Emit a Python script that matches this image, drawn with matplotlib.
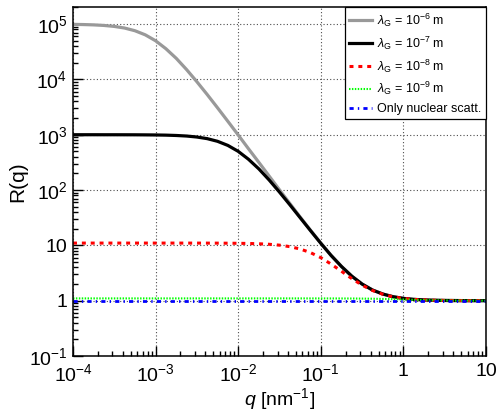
import matplotlib
matplotlib.use("Agg")
import matplotlib.pyplot as plt
from matplotlib.ticker import FixedLocator, FixedFormatter, LogLocator, NullFormatter

plt.rcParams['font.family'] = ['Liberation Sans', 'DejaVu Sans']
plt.rcParams['mathtext.fontset'] = 'custom'
plt.rcParams['mathtext.rm'] = 'Liberation Sans'
plt.rcParams['mathtext.it'] = 'Liberation Sans:italic'

# q grid (nm^-1), eighth-decade steps read along the x axis
q = [1.00e-4, 1.33e-4, 1.78e-4, 2.37e-4, 3.16e-4, 4.22e-4, 5.62e-4, 7.50e-4,
     1.00e-3, 1.33e-3, 1.78e-3, 2.37e-3, 3.16e-3, 4.22e-3, 5.62e-3, 7.50e-3,
     1.00e-2, 1.33e-2, 1.78e-2, 2.37e-2, 3.16e-2, 4.22e-2, 5.62e-2, 7.50e-2,
     0.100, 0.133, 0.178, 0.237, 0.316, 0.422, 0.562, 0.750,
     1.00, 1.33, 1.78, 2.37, 3.16, 4.22, 5.62, 7.50,
     10.0]

# R(q)
r_1e6 = [99000, 98250, 96930, 94680, 90910, 84910, 75970, 64010,
         50000, 36000, 24030, 15100, 9091, 5320, 3070, 1747,
         991, 560, 316, 179, 101, 57.2, 32.6, 18.8,
         11.0, 6.62, 4.16, 2.78, 2.0, 1.56, 1.32, 1.18,
         1.10, 1.056, 1.032, 1.018, 1.010, 1.006, 1.003, 1.002,
         1.001]
r_1e7 = [1001, 1001, 1001, 1000, 1000, 999, 998, 995,
         991, 984, 970, 948, 910, 850, 761, 641,
         501, 361, 241, 152, 91.9, 54.2, 31.7, 18.5,
         10.9, 6.59, 4.15, 2.78, 2.0, 1.56, 1.32, 1.18,
         1.10, 1.056, 1.032, 1.018, 1.010, 1.006, 1.003, 1.002,
         1.001]
r_1e8 = [11.0, 11.0, 11.0, 11.0, 11.0, 11.0, 11.0, 11.0,
         11.0, 11.0, 11.0, 10.99, 10.99, 10.98, 10.97, 10.94,
         10.90, 10.83, 10.69, 10.47, 10.09, 9.49, 8.60, 7.40,
         6.00, 4.60, 3.40, 2.51, 1.91, 1.53, 1.31, 1.17,
         1.099, 1.056, 1.032, 1.018, 1.010, 1.006, 1.003, 1.002,
         1.001]
r_1e9 = [1.1, 1.1, 1.1, 1.1, 1.1, 1.1, 1.1, 1.1,
         1.1, 1.1, 1.1, 1.1, 1.1, 1.1, 1.1, 1.1,
         1.1, 1.1, 1.1, 1.1, 1.1, 1.1, 1.1, 1.099,
         1.099, 1.098, 1.097, 1.095, 1.091, 1.085, 1.076, 1.064,
         1.050, 1.036, 1.024, 1.015, 1.009, 1.005, 1.003, 1.002,
         1.001]
r_nuc = [1.0] * len(q)

labels = [r'$\lambda_{\mathrm{G}}$ = 10$^{-6}$ m',
          r'$\lambda_{\mathrm{G}}$ = 10$^{-7}$ m',
          r'$\lambda_{\mathrm{G}}$ = 10$^{-8}$ m',
          r'$\lambda_{\mathrm{G}}$ = 10$^{-9}$ m',
          'Only nuclear scatt.']

xticks = [1e-4, 1e-3, 1e-2, 1e-1, 1, 10]
xticklabels = [r'$10^{-4}$', r'$10^{-3}$', r'$10^{-2}$', r'$10^{-1}$', '1', '10']
yticks = [1e-1, 1, 10, 1e2, 1e3, 1e4, 1e5]
yticklabels = [r'$10^{-1}$', '1', '10', r'$10^{2}$', r'$10^{3}$', r'$10^{4}$', r'$10^{5}$']

fig = plt.figure(figsize=(5.03, 4.17), dpi=100)
ax = fig.add_axes([73/503, 1-356/417, (486-73)/503, (356-7)/417])

ax.plot(q, r_1e6, color='#999999', lw=2.3, label=labels[0])
ax.plot(q, r_1e7, color='black', lw=2.3, label=labels[1])
ax.plot(q, r_1e8, color='red', lw=2.2, dashes=(1.3, 1.6), label=labels[2])
ax.plot(q, r_1e9, color='#00ff00', lw=1.5, dashes=(0.7, 0.7), label=labels[3])
ax.plot(q, r_nuc, color='blue', lw=2.0, dashes=(1.5, 1.5, 0.5, 1.5), label=labels[4])

ax.set_xscale('log')
ax.set_yscale('log')
ax.set_xlim(1e-4, 10)
ax.set_ylim(0.1, 2.04e5)

ax.xaxis.set_major_locator(FixedLocator(xticks))
ax.xaxis.set_major_formatter(FixedFormatter(xticklabels))
ax.yaxis.set_major_locator(FixedLocator(yticks))
ax.yaxis.set_major_formatter(FixedFormatter(yticklabels))
ax.xaxis.set_minor_locator(LogLocator(base=10, subs=range(2, 10), numticks=20))
ax.yaxis.set_minor_locator(LogLocator(base=10, subs=range(2, 10), numticks=20))
ax.xaxis.set_minor_formatter(NullFormatter())
ax.yaxis.set_minor_formatter(NullFormatter())

ax.tick_params(which='both', direction='in', top=False, right=False,
               labelsize=14, width=1, colors='black')
ax.tick_params(which='major', length=7, pad=4)
ax.tick_params(axis='x', which='major', pad=5)
ax.tick_params(which='minor', length=3.5)
for s in ax.spines.values():
    s.set_linewidth(1.1)

ax.grid(True, which='major', ls=(0, (1, 2)), color='0.3', lw=0.8)

ax.set_xlabel(r'$q$ [nm$^{-1}$]', fontsize=14, labelpad=1)
ax.set_ylabel('R(q)', fontsize=15, labelpad=1)

leg = ax.legend(loc='upper right', bbox_to_anchor=(1.0, 1.0), fontsize=9,
                frameon=True, fancybox=False, framealpha=1, edgecolor='black',
                borderpad=0.35, labelspacing=0.45, handlelength=1.8,
                handletextpad=0.45, borderaxespad=0)
leg.get_frame().set_linewidth(0.9)

fig.savefig('out.png', dpi=100)
